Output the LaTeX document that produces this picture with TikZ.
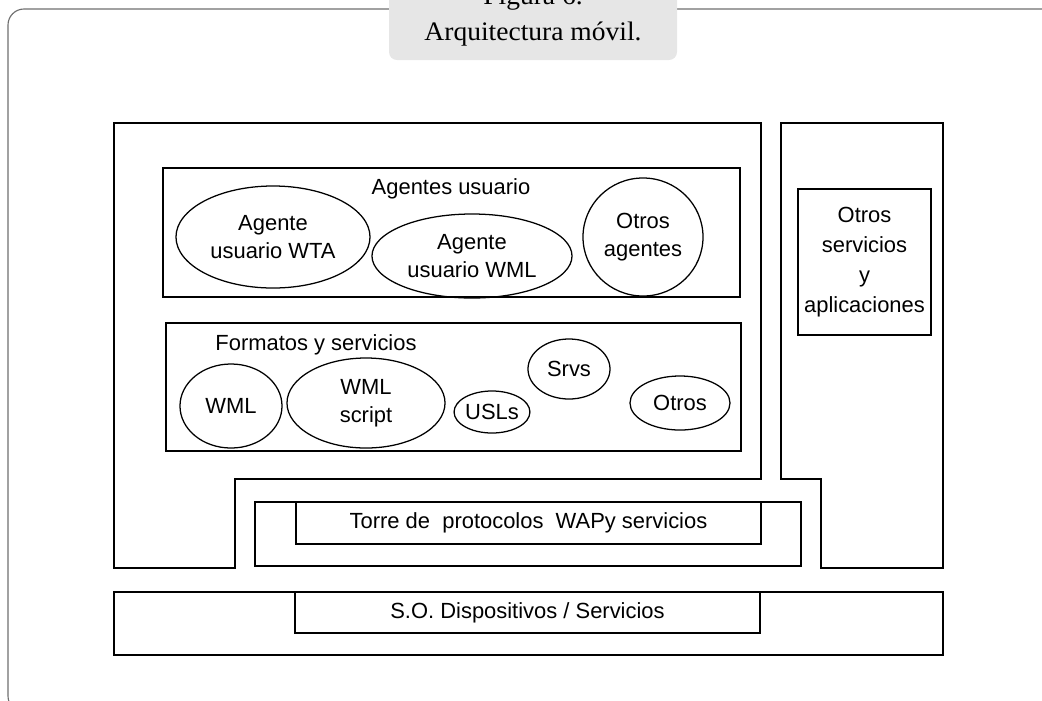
\documentclass[tikz,border=0pt]{standalone}
\usepackage{fontspec}
\usepackage{xcolor}
\usepackage{tikz}
\usetikzlibrary{shapes.geometric, positioning}
\setmainfont{Liberation Serif}
\newfontfamily\capfont[FakeStretch=1.03]{Liberation Serif}
\newfontfamily\diagfont{Liberation Sans}
\definecolor{capgray}{HTML}{E6E6E6}
\definecolor{framegray}{HTML}{6E6E6E}

\begin{document}
\begin{tikzpicture}[
  x=0.025cm, y=-0.025cm,
  line width=0.9pt,
  box/.style={rectangle, draw, inner sep=0pt, align=center, font=\diagfont\fontsize{15.6}{21.3}\selectfont},
  oval/.style={ellipse, draw, inner sep=0pt, align=center, font=\diagfont\fontsize{15.6}{20}\selectfont},
  lbl/.style={inner sep=0pt, font=\diagfont\fontsize{15.6}{20}\selectfont},
  captext/.style={inner sep=0pt, anchor=base, font=\capfont\fontsize{19}{22}\selectfont},
]
\useasboundingbox (0,0) rectangle (1042,700);
\draw[framegray, line width=0.8pt, rounded corners=0.4cm] (8,9) rectangle (1060,712);
\fill[capgray, rounded corners=0.2cm] (389,-20) rectangle (677,60);
\node[captext] (fig) at (533,4) {Figura 6.};
\node[captext] (title) at (533,40) {Arquitectura móvil.};

\draw (114,123) -- (761,123) -- (761,479) -- (235,479) -- (235,568) -- (114,568) -- cycle;
\draw (781,123) -- (943,123) -- (943,568) -- (821,568) -- (821,479) -- (781,479) -- cycle;

\node[box, minimum width=14.425cm, minimum height=3.225cm] (agentes) at (451.5,232.5) {};
\node[lbl] (agenteslbl) at (451,189) {Agentes usuario};
\node[oval, minimum width=4.85cm, minimum height=2.55cm] (wta) at (273,237) {Agente\\usuario WTA};
\node[oval, minimum width=5cm, minimum height=2.1cm] (wmlag) at (472,256) {Agente\\usuario WML};
\node[oval, minimum width=3cm, minimum height=2.95cm] (otrosag) at (643,237) {Otros\\agentes};

\node[box, minimum width=14.375cm, minimum height=3.2cm] (formatos) at (453.5,387) {};
\node[lbl] (formatoslbl) at (316,345) {Formatos y servicios};
\node[oval, minimum width=2.55cm, minimum height=2.1cm] (wml) at (231,406) {WML};
\node[oval, minimum width=3.95cm, minimum height=2.25cm] (script) at (366,403) {WML\\script};
\node[oval, minimum width=1.8cm, minimum height=1.05cm] (usls) at (492,412) {USLs};
\node[oval, minimum width=2.05cm, minimum height=1.5cm] (srvs) at (569,369) {Srvs};
\node[oval, minimum width=2.5cm, minimum height=1.35cm] (otros) at (680,403) {Otros};

\node[box, minimum width=3.325cm, minimum height=3.65cm] (otrosserv) at (864.5,262) {Otros\\servicios\\y\\aplicaciones};

\node[box, minimum width=13.65cm, minimum height=1.6cm] (torreout) at (528,534) {};
\node[box, minimum width=11.625cm, minimum height=1.05cm] (torre) at (528.5,523) {Torre de~ protocolos~ WAPy servicios};

\node[box, minimum width=20.725cm, minimum height=1.575cm] (soout) at (528.5,623.5) {};
\node[box, minimum width=11.625cm, minimum height=1.025cm] (so) at (527.5,612.5) {S.O. Dispositivos / Servicios};
\end{tikzpicture}
\end{document}
